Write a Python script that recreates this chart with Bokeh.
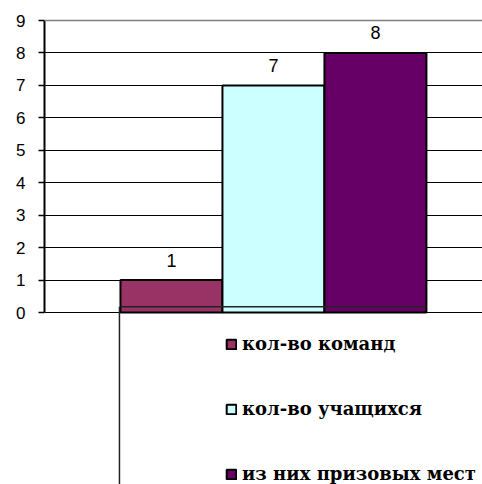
from bokeh.plotting import figure
from bokeh.models import ColumnDataSource, Range1d, Legend, LegendItem, Span, FixedTicker
from bokeh.embed import file_html
from bokeh.resources import INLINE
from bokeh.core.properties import value

# ---- data ----
series = ["кол-во команд", "кол-во учащихся", "из них призовых мест"]
values = [1, 7, 8]
colors = ["#993366", "#CCFFFF", "#660066"]
positions = [1, 2, 3]
y_ticks = [0, 1, 2, 3, 4, 5, 6, 7, 8, 9]

bar_w = 1.0
src = ColumnDataSource(dict(x=positions, top=values, color=colors,
                            label=[str(v) for v in values], name=series))

p = figure(width=482, height=484, output_backend="svg", toolbar_location=None,
           x_range=Range1d(-0.245, 4.05), y_range=Range1d(-5.30, 9.617),
           x_axis_location=None, y_axis_location="left",
           min_border_left=44, min_border_right=0, min_border_top=0, min_border_bottom=0)
p.outline_line_color = None
p.background_fill_color = "white"

# y axis
ax = p.yaxis[0]
ax.ticker = FixedTicker(ticks=y_ticks)
ax.bounds = (y_ticks[0], y_ticks[-1])
ax.major_tick_out = 6
ax.major_tick_in = 0
ax.minor_tick_line_color = None
ax.axis_line_width = 2
ax.axis_line_color = "black"
ax.major_tick_line_color = "black"
ax.major_tick_line_width = 1.5
ax.major_label_text_font = "Liberation Sans"
ax.major_label_text_font_size = "17px"
ax.major_label_text_color = "black"
ax.major_label_standoff = 13

# grid
p.xgrid.visible = False
p.ygrid.ticker = FixedTicker(ticks=y_ticks[:-1])
p.ygrid.grid_line_color = "black"
p.ygrid.grid_line_width = 1.2
p.add_layout(Span(location=y_ticks[-1], dimension="width", line_color="#808080", line_width=1.5))

# bars
r = p.vbar(x="x", top="top", bottom=0, width=bar_w, fill_color="color",
           line_color="black", line_width=2, source=src)

# data labels
p.text(x="x", y="top", text="label", source=src, text_align="center",
       text_baseline="alphabetic", y_offset=-20, text_font=value("Liberation Sans"),
       text_font_size="18px", text_color="black")

# stray lines of the original drawing
left = positions[0] - bar_w / 2
right = positions[-1] + bar_w / 2
p.segment(x0=[left], y0=[0.18], x1=[right], y1=[0.18], line_color="#222222", line_width=1.5)
p.segment(x0=[left - 0.01], y0=[0.18], x1=[left - 0.01], y1=[-6], line_color="#222222", line_width=1.5)

# legend
items = [LegendItem(label=s, renderers=[r], index=i) for i, s in enumerate(series)]
leg = Legend(items=items, location=(181, 0), orientation="vertical")
leg.label_text_font = "DejaVu Serif"
leg.label_text_font_style = "bold"
leg.label_text_font_size = "18px"
leg.label_text_color = "black"
leg.glyph_width = 12
leg.glyph_height = 12
leg.label_standoff = 5
leg.spacing = 44
leg.padding = 0
leg.margin = 0
leg.border_line_color = None
leg.background_fill_alpha = 0
p.add_layout(leg)

open("out.html", "w").write(file_html(p, INLINE))
